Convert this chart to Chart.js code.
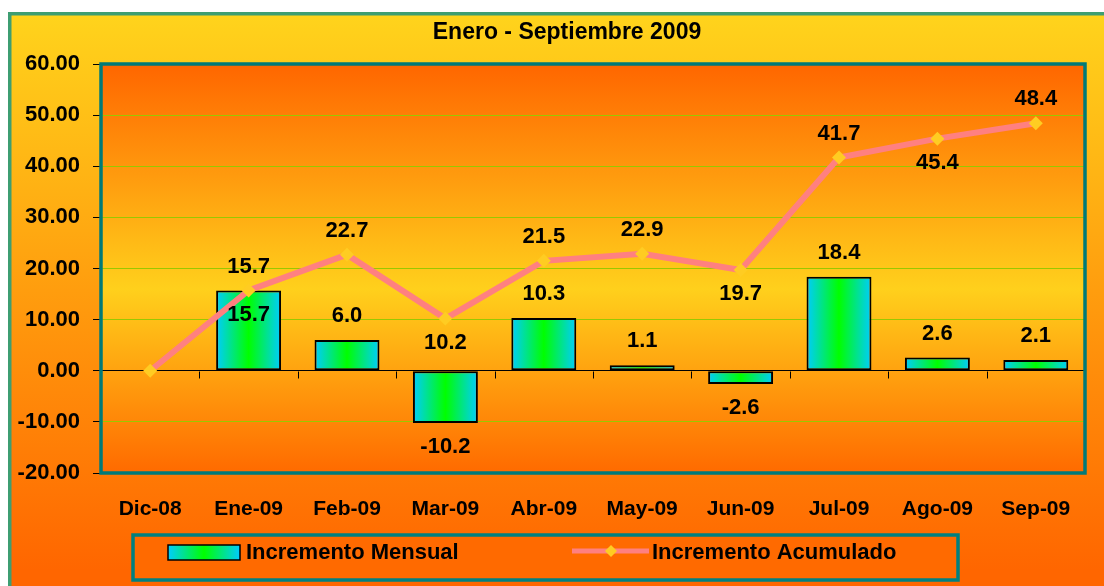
<!DOCTYPE html>
<html>
<head>
<meta charset="utf-8">
<script src="https://cdn.jsdelivr.net/npm/chart.js@4"></script>
<style>
  html, body { margin: 0; padding: 0; background: #fff; }
  canvas { display: block; }
</style>
</head>
<body>
<canvas id="chart" width="1104" height="586"></canvas>
<script>
const categories = ["Dic-08", "Ene-09", "Feb-09", "Mar-09", "Abr-09", "May-09", "Jun-09", "Jul-09", "Ago-09", "Sep-09"];
const monthly = [null, 15.7, 6.0, -10.2, 10.3, 1.1, -2.6, 18.4, 2.6, 2.1];
const cumulative = [0, 15.7, 22.7, 10.2, 21.5, 22.9, 19.7, 41.7, 45.4, 48.4];
const yMin = -20;
const yMax = 60;
const yStep = 10;

// which side of the mark each value label sits on (as in the original)
const monthlySide = [null, "down", "up", "down", "up", "up", "down", "up", "up", "up"];
const cumulativeSide = [null, "up", "up", "down", "up", "up", "down", "up", "down", "up"];

const FONT = "'Liberation Sans', Arial, sans-serif";
const BAR_PCT = 0.66;

function barGradient(ctx, x0, x1) {
  const g = ctx.createLinearGradient(x0, 0, x1, 0);
  g.addColorStop(0, "#00CCFF");
  g.addColorStop(0.5, "#00FF00");
  g.addColorStop(1, "#00CCFF");
  return g;
}

function diamond(ctx, x, y, r, color) {
  ctx.fillStyle = color;
  ctx.beginPath();
  ctx.moveTo(x, y - r);
  ctx.lineTo(x + r, y);
  ctx.lineTo(x, y + r);
  ctx.lineTo(x - r, y);
  ctx.closePath();
  ctx.fill();
}

const decor = {
  id: "decor",
  beforeDraw(chart) {
    const ctx = chart.ctx;
    const a = chart.chartArea;
    ctx.save();
    ctx.fillStyle = "#fff";
    ctx.fillRect(0, 0, chart.width, chart.height);

    // outer chart background
    const og = ctx.createLinearGradient(0, 12, 0, 570);
    og.addColorStop(0, "#FFD41C");
    og.addColorStop(1, "#FF6600");
    ctx.fillStyle = og;
    ctx.fillRect(8, 12, chart.width - 8, chart.height - 12);
    ctx.strokeStyle = "#3E9E72";
    ctx.lineWidth = 3.5;
    ctx.strokeRect(9.75, 13.75, chart.width + 20, chart.height + 20);

    // plot area background
    const pg = ctx.createLinearGradient(0, a.top, 0, a.bottom);
    pg.addColorStop(0, "#FF6600");
    pg.addColorStop(0.55, "#FFD01C");
    pg.addColorStop(1, "#FF6A00");
    ctx.fillStyle = pg;
    ctx.fillRect(a.left, a.top, a.right - a.left, a.bottom - a.top);
    ctx.restore();
  },
  afterDatasetsDraw(chart) {
    const ctx = chart.ctx;
    const a = chart.chartArea;
    const x = chart.scales.x;
    const y = chart.scales.y;
    ctx.save();

    // tick marks on the zero line, between categories
    const y0 = Math.round(y.getPixelForValue(0)) + 0.5;
    const step = (a.right - a.left) / categories.length;
    ctx.strokeStyle = "#000";
    ctx.lineWidth = 1;
    ctx.beginPath();
    for (let i = 0; i <= categories.length; i++) {
      const px = Math.round(a.left + i * step) + 0.5;
      ctx.moveTo(px, y0);
      ctx.lineTo(px, y0 + 7);
    }
    ctx.stroke();

    // value labels
    ctx.fillStyle = "#000";
    ctx.font = "bold 22px " + FONT;
    ctx.textAlign = "center";
    ctx.textBaseline = "middle";
    const off = 24;
    monthly.forEach((v, i) => {
      if (v === null || !monthlySide[i]) return;
      const py = y.getPixelForValue(v);
      ctx.fillText(v.toFixed(1), x.getPixelForValue(i), py + (monthlySide[i] === "up" ? -off : off));
    });
    cumulative.forEach((v, i) => {
      if (!cumulativeSide[i]) return;
      const py = y.getPixelForValue(v);
      ctx.fillText(v.toFixed(1), x.getPixelForValue(i), py + (cumulativeSide[i] === "up" ? -off : off));
    });
    ctx.restore();
  },
  afterDraw(chart) {
    const ctx = chart.ctx;
    const a = chart.chartArea;
    ctx.save();

    // plot border
    ctx.strokeStyle = "#007A78";
    ctx.lineWidth = 3.5;
    ctx.strokeRect(a.left, a.top, a.right - a.left, a.bottom - a.top);

    // title
    ctx.fillStyle = "#000";
    ctx.font = "bold 23px " + FONT;
    ctx.textAlign = "center";
    ctx.textBaseline = "middle";
    ctx.fillText("Enero - Septiembre 2009", 567, 33);

    // legend
    const ds = chart.data.datasets;
    ctx.fillStyle = "#FF6A00";
    ctx.fillRect(133, 535, 825, 45);
    ctx.strokeStyle = "#008080";
    ctx.lineWidth = 3.5;
    ctx.strokeRect(133, 535, 825, 45);

    ctx.fillStyle = barGradient(ctx, 168, 240);
    ctx.fillRect(168, 545, 72, 15);
    ctx.strokeStyle = "#000";
    ctx.lineWidth = 1.5;
    ctx.strokeRect(168, 545, 72, 15);

    ctx.strokeStyle = "#FF8080";
    ctx.lineWidth = 5;
    ctx.beginPath();
    ctx.moveTo(572, 551);
    ctx.lineTo(649, 551);
    ctx.stroke();
    diamond(ctx, 611, 551, 6, "#FFCC22");

    ctx.fillStyle = "#000";
    ctx.font = "bold 22px " + FONT;
    ctx.textAlign = "left";
    ctx.textBaseline = "middle";
    ctx.fillText(ds[1].label, 246, 553);
    ctx.fillText(ds[0].label, 652, 553);
    ctx.restore();
  }
};

new Chart(document.getElementById("chart"), {
  type: "bar",
  data: {
    labels: categories,
    datasets: [
      {
        type: "line",
        label: "Incremento Acumulado",
        data: cumulative,
        borderColor: "#FF8080",
        borderWidth: 6,
        pointStyle: "rectRot",
        pointRadius: 7,
        pointBackgroundColor: "#FFCC22",
        pointBorderWidth: 0,
        tension: 0,
        order: 0
      },
      {
        label: "Incremento Mensual",
        data: monthly,
        backgroundColor: c => {
          const x = c.chart.scales.x;
          if (!x || c.dataIndex == null) return "#00CCFF";
          const cx = x.getPixelForValue(c.dataIndex);
          const w = (x.width / categories.length) * BAR_PCT;
          if (!Number.isFinite(cx) || !Number.isFinite(w) || w <= 0) return "#00CCFF";
          return barGradient(c.chart.ctx, cx - w / 2, cx + w / 2);
        },
        borderColor: "#000",
        borderWidth: 2,
        borderSkipped: false,
        categoryPercentage: 1,
        barPercentage: BAR_PCT,
        order: 1
      }
    ]
  },
  options: {
    responsive: false,
    animation: false,
    devicePixelRatio: 1,
    layout: { padding: { top: 64, right: 19, left: 0, bottom: 0 } },
    plugins: {
      legend: { display: false },
      title: { display: false },
      tooltip: { enabled: false }
    },
    scales: {
      x: {
        grid: { display: false },
        border: { display: false },
        ticks: {
          color: "#000",
          font: { family: FONT, size: 21, weight: "bold" },
          padding: 16,
          autoSkip: false,
          maxRotation: 0
        },
        afterFit: s => { s.height = 113; }
      },
      y: {
        min: yMin,
        max: yMax,
        ticks: {
          stepSize: yStep,
          color: "#000",
          font: { family: FONT, size: 22, weight: "bold" },
          padding: 13,
          callback: v => v.toFixed(2)
        },
        grid: {
          color: c => (c.tick && c.tick.value === 0 ? "#000" : "#99C800"),
          tickColor: "#000",
          tickLength: 8,
          lineWidth: 1
        },
        border: { display: false },
        afterFit: s => { s.width = 101; }
      }
    }
  },
  plugins: [decor]
});
</script>
</body>
</html>
